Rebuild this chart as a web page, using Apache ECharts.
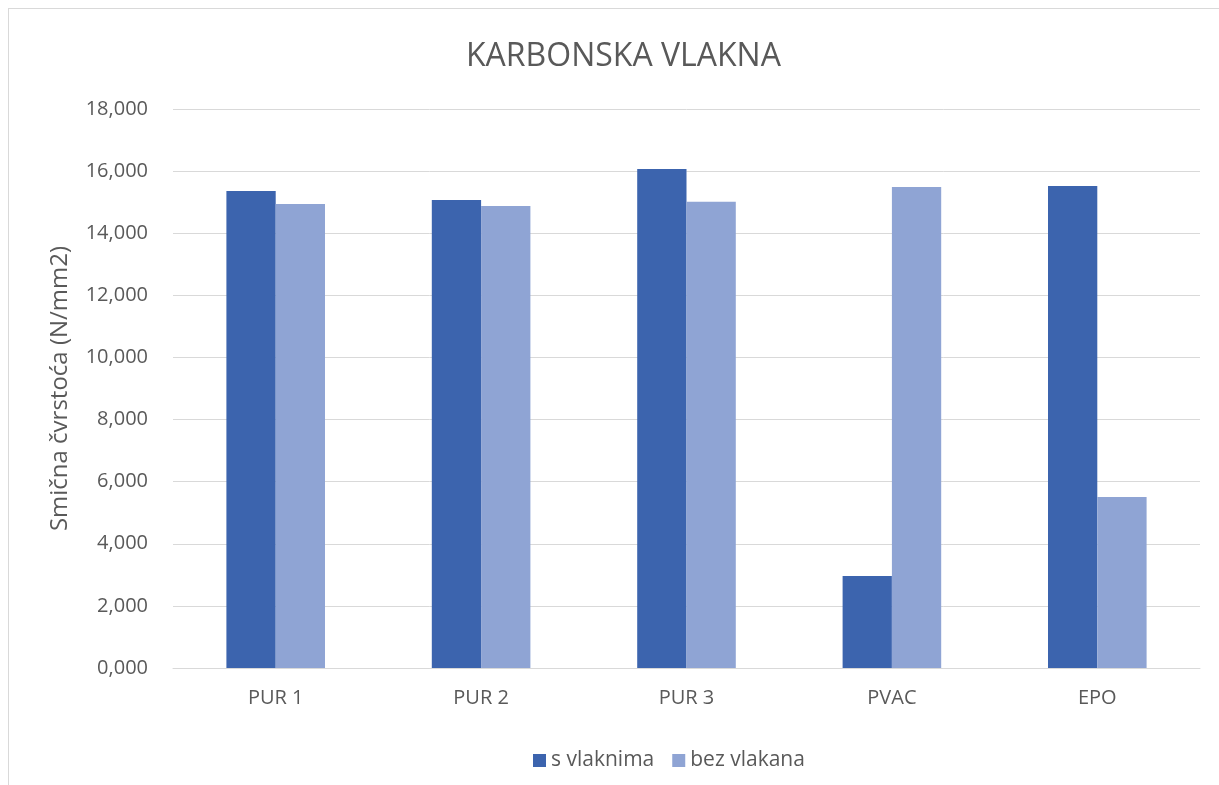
<!DOCTYPE html>
<html><head><meta charset="utf-8">
<script src="https://cdn.jsdelivr.net/npm/echarts@6/dist/echarts.min.js"></script>
<style>
html,body{margin:0;padding:0;background:#fff;}
#frame{position:absolute;left:8px;top:8px;width:1240px;height:800px;border:1px solid #d9d9d9;box-sizing:border-box;}
#c{position:absolute;left:0;top:0;width:1219px;height:785px;}
</style></head>
<body>
<div id="frame"></div>
<div id="c"></div>
<script>
const categories = ['PUR 1','PUR 2','PUR 3','PVAC','EPO'];
const sVlaknima = [15.36, 15.07, 16.07, 2.96, 15.52];
const bezVlakana = [14.94, 14.88, 15.01, 15.49, 5.51];
const seriesNames = ['s vlaknima','bez vlakana'];
const titleText = 'KARBONSKA VLAKNA';
const yAxisName = 'Smična čvrstoća (N/mm2)';

const chart = echarts.init(document.getElementById('c'), null, {renderer:'canvas'});
const txt = '#595959';
const font = '"Open Sans", "Noto Sans", sans-serif';
chart.setOption({
  backgroundColor: 'transparent',
  animation: false,
  title: { text: titleText, left: 461, top: 36, textStyle: { color: txt, fontSize: 32, fontWeight: 'normal', fontFamily: font } },
  legend: { bottom: 9, left: 528, itemWidth: 13, itemHeight: 13, itemGap: 18,
    textStyle: { color: txt, fontSize: 21, fontFamily: font }, icon: 'rect' },
  grid: { left: 173, right: 19, top: 109, bottom: 117, containLabel: false },
  xAxis: { type: 'category', data: categories,
    axisLine: { lineStyle: { color: '#d9d9d9', width: 1 } }, axisTick: { show: false },
    axisLabel: { color: txt, fontSize: 20, fontFamily: font, margin: 20 } },
  yAxis: { type: 'value', min: 0, max: 18, interval: 2,
    name: yAxisName, nameLocation: 'middle', nameGap: 101, nameRotate: 90,
    nameTextStyle: { color: txt, fontSize: 24, fontFamily: font },
    axisLine: { show: false }, axisTick: { show: false },
    splitLine: { lineStyle: { color: '#d9d9d9', width: 1 } },
    axisLabel: { color: txt, fontSize: 20, fontFamily: font, margin: 25,
      formatter: v => v.toFixed(3).replace('.', ',') } },
  series: [
    { name: seriesNames[0], type: 'bar', data: sVlaknima, barGap: '0%', barCategoryGap: '52%',
      itemStyle: { color: '#3c64ae' } },
    { name: seriesNames[1], type: 'bar', data: bezVlakana,
      itemStyle: { color: '#8fa4d4' } }
  ]
});
</script>
</body></html>
